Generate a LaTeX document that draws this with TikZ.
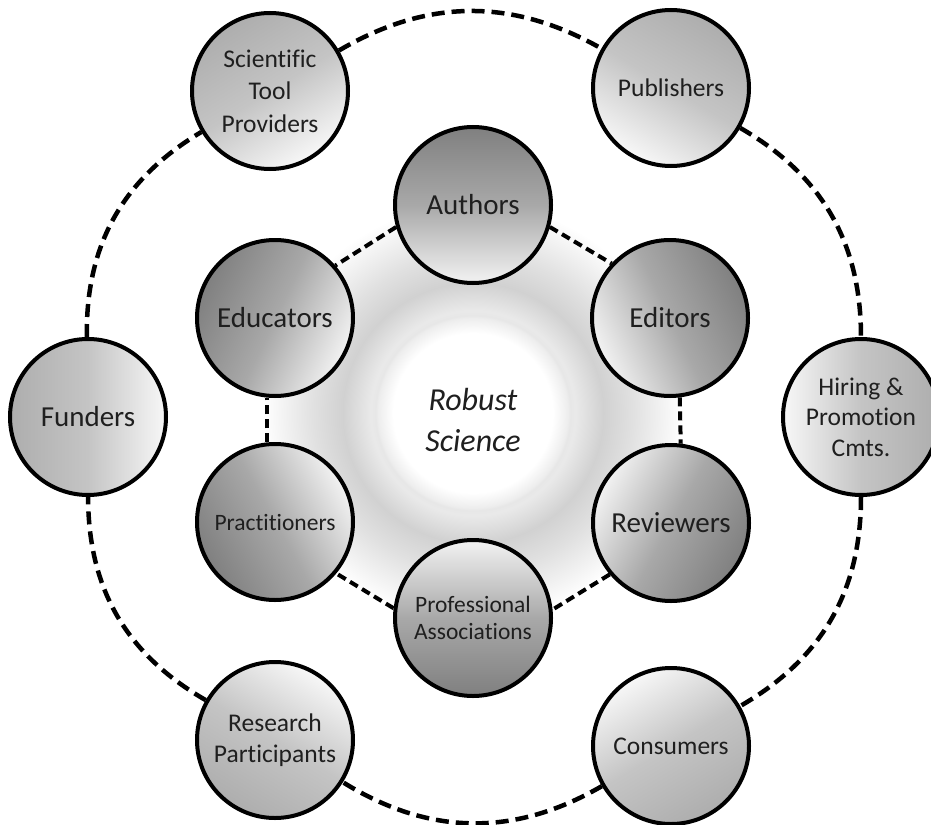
\documentclass[tikz,border=0pt]{standalone}
\usepackage{fontspec}
\setmainfont{Carlito}[Ligatures=NoCommon]
\definecolor{idark}{gray}{0.50}
\definecolor{imid}{gray}{0.66}
\definecolor{ilight}{gray}{0.95}
\definecolor{odark}{gray}{0.68}
\definecolor{omid}{gray}{0.77}
\definecolor{olight}{gray}{0.97}
\definecolor{glA}{gray}{0.93}
\definecolor{glB}{gray}{0.905}
\definecolor{glC}{gray}{0.915}
\definecolor{glD}{gray}{0.82}
\definecolor{glE}{gray}{0.88}
\definecolor{glF}{gray}{0.96}
\pgfdeclareradialshading{glow}{\pgfpoint{0bp}{0bp}}{color(0bp)=(white); color(9.5bp)=(white); color(11.3bp)=(glA); color(11.6bp)=(glB); color(12.2bp)=(glC); color(15.5bp)=(glD); color(19bp)=(glE); color(23bp)=(glF); color(25bp)=(white); color(50bp)=(white)}
\tikzset{
  basenode/.style={circle, draw=black, line width=4pt, minimum size=156pt, inner sep=0pt, align=center, text=black!88},
  innernode/.style={basenode, top color=idark, bottom color=ilight, middle color=imid, font=\fontsize{29}{34}\selectfont},
  outernode/.style={basenode, top color=odark, bottom color=olight, middle color=omid, font=\fontsize{25.5}{30.5}\selectfont},
  smalltext/.style={font=\fontsize{23.5}{27.5}\selectfont},
  outerring/.style={draw=black, line width=4.5pt, dash pattern=on 13pt off 7pt},
  innerring/.style={draw=black, line width=4pt, dash pattern=on 9pt off 5pt},
  centretext/.style={align=center, font=\fontsize{32}{41}\selectfont\itshape, text=black!88}
}
\begin{document}
\begin{tikzpicture}[x=1pt,y=-1pt]
\useasboundingbox (0,0) rectangle (931,824);
\fill[white] (0,0) rectangle (931,824);
\coordinate (c) at (473,413);
\shade[shading=glow] (c) circle[radius=210pt];
% inner ring nodes
\node[innernode, shading angle=0] (authors) at (473,205) {Authors};
\node[innernode, shading angle=-64.5] (editors) at (670,318) {Editors};
\node[innernode, shading angle=-119] (reviewers) at (671,523) {Reviewers};
\node[innernode, smalltext, shading angle=180] (profassoc) at (473,618) {Professional\\Associations};
\node[innernode, smalltext, shading angle=119] (practitioners) at (275,522) {Practitioners};
\node[innernode, shading angle=64.5] (educators) at (275,318) {Educators};
% outer ring nodes
\node[outernode, font=\fontsize{25.5}{32.5}\selectfont, shading angle=32] (scitool) at (270,91) {Scientific\\Tool\\Providers};
\node[outernode, shading angle=-31] (publishers) at (671,88) {Publishers};
\node[outernode, shading angle=-90] (hiring) at (861,417) {Hiring \&\\Promotion\\Cmts.};
\node[outernode, shading angle=-149] (consumers) at (671,746) {Consumers};
\node[outernode, shading angle=148.6] (research) at (275,740) {Research\\Participants};
\node[outernode, font=\fontsize{29}{34}\selectfont, shading angle=90] (funders) at (88,417) {Funders};
% centre text
\node[centretext] (robust) at (473,420) {Robust\\Science};
% inner connectors
\path[innerring] (authors.196) -- (educators.41.5);
\path[innerring] (authors.-16) -- (editors.137);
\path[innerring] (editors.-83.5) -- (reviewers.83.5);
\path[innerring] (reviewers.220) -- (profassoc.6.5);
\path[innerring] (profassoc.173.5) -- (practitioners.320);
\path[innerring] (practitioners.96) -- (educators.264);
% outer connectors
\path[outerring] (scitool) to[bend left=30] (publishers);
\path[outerring] (publishers) to[bend left=30] (hiring);
\path[outerring] (hiring) to[bend left=30] (consumers);
\path[outerring] (consumers) to[bend left=31] (research);
\path[outerring] (research) to[bend left=30] (funders);
\path[outerring] (funders) to[bend left=30] (scitool);
\end{tikzpicture}
\end{document}
